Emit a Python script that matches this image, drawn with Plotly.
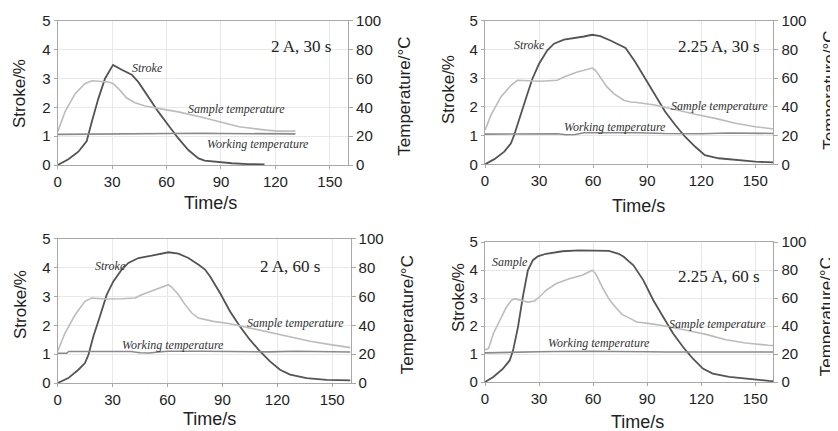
import plotly.graph_objects as go

# The page body has an 8 px margin, so the figure is drawn 8 px smaller
# and all pixel positions are shifted by that offset.
PAGE_W, PAGE_H = 838, 431
OFF = 8
W, H = PAGE_W - OFF, PAGE_H - OFF

# ---------------- data ----------------
panel_titles = ["2 A, 30 s", "2.25 A, 30 s", "2 A, 60 s", "2.25 A, 60 s"]
stroke_labels = ["Stroke", "Stroke", "Stroke", "Sample"]

x_ticks = [0, 30, 60, 90, 120, 150]

# Panel 1: 2 A, 30 s
p1_stroke_t = [0, 5.9, 11.4, 16, 18.8, 22.4, 26.1, 30.5, 35.3, 40.8, 44.5, 50, 55.5, 61, 66.5, 72, 77.6, 81, 89, 96, 105, 114]
p1_stroke_v = [0, 0.2, 0.46, 0.83, 1.5, 2.3, 3.0, 3.47, 3.3, 3.13, 2.87, 2.36, 1.84, 1.38, 0.92, 0.52, 0.23, 0.15, 0.1, 0.06, 0.03, 0.02]
p1_sample_t = [0, 4, 9.6, 15, 18.8, 22.4, 28, 30.7, 34.4, 38, 42.6, 48.2, 53.7, 59.2, 66.5, 73.9, 81.2, 89.2, 100, 114.8, 122, 131]
p1_sample_v = [23, 36.8, 49.4, 56.3, 58.4, 58, 57.5, 56.3, 51.7, 46.4, 43.2, 40.9, 39.5, 38.4, 36.8, 34.9, 32.6, 30, 26.5, 24.2, 23.5, 23.5]
p1_work_t = [0, 10, 20, 30, 40, 50, 60, 70, 80, 90, 100, 110, 120, 131]
p1_work_v = [21.2, 21.3, 21.4, 21.6, 22.0, 22.1, 22.0, 22.2, 22.0, 21.8, 21.7, 21.6, 21.6, 21.6]

# Panel 2: 2.25 A, 30 s
p2_stroke_t = [0, 5.2, 10.7, 14.4, 16.2, 19, 22.7, 26.3, 30, 34.6, 38.3, 43.8, 49.4, 54.9, 59.5, 64, 69.6, 75, 78, 83.3, 88.9, 94.4, 100, 105.6, 111, 116.7, 122, 129.6, 138.9, 150, 160]
p2_stroke_v = [0, 0.18, 0.44, 0.73, 1.02, 1.6, 2.29, 2.98, 3.5, 3.97, 4.2, 4.34, 4.39, 4.45, 4.51, 4.46, 4.31, 4.15, 4.05, 3.57, 3.0, 2.41, 1.83, 1.37, 0.96, 0.61, 0.32, 0.21, 0.15, 0.09, 0.07]
p2_sample_t = [0, 3.3, 8.8, 14.4, 18, 23.6, 30.9, 40.1, 43.8, 51.2, 59.5, 61.3, 64, 67.7, 71.5, 77, 80.7, 83.3, 94.4, 105.6, 116.7, 127.8, 138.9, 150, 160]
p2_sample_v = [23.8, 34.2, 46.9, 55, 58.5, 58, 57.8, 58.5, 60.8, 64.3, 67, 65.4, 60.8, 53.9, 49.2, 44.6, 43.4, 43.2, 41.3, 37.8, 34.8, 32, 28.6, 26.2, 24.6]
p2_work_t = [0, 20, 40, 45, 50, 55, 70, 85, 100, 120, 135, 150, 160]
p2_work_v = [21.0, 21.2, 21.3, 20.6, 20.8, 22.0, 22.1, 22.0, 21.4, 21.3, 21.8, 21.8, 21.5]

# Panel 3: 2 A, 60 s
p3_stroke_t = [0, 5.8, 11.3, 14.9, 16.8, 19.5, 23.1, 26.8, 30.4, 35, 38.6, 44.1, 51.4, 56.8, 60.5, 66, 71.4, 77, 80.5, 83.2, 88.7, 94.2, 99.6, 105, 110.5, 116, 121.5, 127, 136, 147, 160]
p3_stroke_v = [0, 0.17, 0.46, 0.69, 0.98, 1.62, 2.31, 3.06, 3.52, 3.93, 4.16, 4.33, 4.41, 4.47, 4.53, 4.48, 4.33, 4.1, 3.93, 3.7, 3.12, 2.48, 1.96, 1.5, 1.1, 0.75, 0.46, 0.29, 0.17, 0.11, 0.09]
p3_sample_t = [0, 4, 9.5, 14.9, 18.6, 25.9, 35, 42.3, 45.9, 53.2, 60.5, 62.3, 66, 69.6, 73.3, 76.9, 80.5, 85, 94.2, 105, 116, 127, 138, 149, 160]
p3_sample_v = [22, 34.6, 47.3, 56.6, 58.9, 58.2, 58.4, 58.9, 61.2, 64.7, 68.1, 66.5, 61.2, 54.3, 48.5, 45, 44, 42.7, 41.1, 38.1, 35.1, 31.9, 28.9, 26.6, 24.5]
p3_work_t = [0, 5, 6, 40, 45, 50, 55, 60, 80, 100, 115, 130, 140, 160]
p3_work_v = [20.6, 20.6, 21.8, 21.8, 21.0, 20.8, 21.5, 22.0, 22.0, 21.8, 21.6, 22.0, 21.8, 21.5]

# Panel 4: 2.25 A, 60 s
p4_stroke_t = [0, 4.6, 10, 13.7, 15.6, 18.3, 21, 23.8, 26.6, 29.3, 33.9, 43, 52.2, 61.4, 68.7, 74.2, 77, 80, 82.4, 87.9, 93.4, 98.9, 104.4, 109.9, 115.4, 120.9, 126.4, 135.5, 146.5, 157.5, 160]
p4_stroke_v = [0, 0.18, 0.48, 0.77, 1.13, 1.96, 3.04, 3.99, 4.35, 4.49, 4.58, 4.67, 4.7, 4.7, 4.68, 4.58, 4.47, 4.3, 4.17, 3.63, 2.92, 2.32, 1.73, 1.25, 0.83, 0.48, 0.3, 0.18, 0.1, 0.04, 0.03]
p4_sample_t = [0, 2, 4.6, 8.2, 11.9, 14.7, 16.5, 20.1, 23.8, 27.5, 30.2, 33.9, 39.3, 46.7, 54, 59.5, 61.4, 65, 68.7, 72.3, 76, 79.7, 84.2, 91.6, 100.7, 111.7, 122.7, 133.7, 144.7, 157.5, 160]
p4_sample_v = [23, 24, 34.5, 44, 53.6, 58.3, 59.5, 58.3, 57.1, 57.9, 60.7, 65.5, 70.2, 73.8, 76.2, 79.8, 77.4, 67.9, 59.5, 53.6, 48.3, 46, 42.9, 41.7, 39.8, 36.9, 34, 30.2, 27.9, 26.2, 26]
p4_work_t = [0, 10, 20, 30, 40, 50, 60, 70, 80, 90, 100, 120, 140, 160]
p4_work_v = [20.8, 20.9, 21.2, 21.6, 21.8, 22.0, 22.0, 21.8, 21.9, 21.6, 21.4, 21.3, 21.5, 21.4]

stroke_t = [p1_stroke_t, p2_stroke_t, p3_stroke_t, p4_stroke_t]
stroke_v = [p1_stroke_v, p2_stroke_v, p3_stroke_v, p4_stroke_v]
sample_t = [p1_sample_t, p2_sample_t, p3_sample_t, p4_sample_t]
sample_v = [p1_sample_v, p2_sample_v, p3_sample_v, p4_sample_v]
work_t = [p1_work_t, p2_work_t, p3_work_t, p4_work_t]
work_v = [p1_work_v, p2_work_v, p3_work_v, p4_work_v]

# label positions (data coords: time, stroke units)
stroke_lbl_pos = [(49.6, 3.36), (24.8, 4.15), (28.6, 4.05), (13.6, 4.27)]
title_pos = [(134, 4.1), (130, 4.1), (127, 4.03), (130, 3.76)]
sample_lbl_pos = [(98.7, 1.93), (130, 2.03), (129.7, 2.07), (129.3, 2.07)]
work_lbl_pos = [(110.6, 0.73), (72.4, 1.31), (63.2, 1.32), (63.4, 1.38)]

# ---------------- layout geometry (page pixels) ----------------
# (left, right, top, bottom) of each plot area
boxes = [(57.7, 348, 20.7, 165), (485, 773.3, 20.7, 164.3),
         (57.7, 350.5, 238.7, 383), (485, 773.3, 242, 382)]
stroke_title_px = [(20, 94), (448, 90), (20, 305), (458, 298)]
temp_title_px = [(405, 96.7), (828.7, 90), (407.3, 315), (826.3, 317)]
time_title_px = [(210, 203), (638, 206), (209, 419), (637, 422)]

def fx(px):
    return (px - OFF) / W

def fy(py):
    return 1 - (py - OFF) / H

C_STROKE = "#545454"
C_SAMPLE = "#bcbcbc"
C_WORK = "#8a8a8a"
FRAME = "#a8a8a8"
GRID = "#e8e8e8"
TXT = "#222222"
SANS = "Liberation Sans, Arial, sans-serif"
SERIF = "Liberation Serif, Times New Roman, serif"

fig = go.Figure()
layout = dict(template="none", width=W, height=H, margin=dict(l=0, r=0, t=0, b=0, pad=0),
              paper_bgcolor="white", plot_bgcolor="white", showlegend=False)
annotations = []

for i in range(4):
    n = i + 1
    xa = "x" if n == 1 else f"x{n}"
    yl_idx = 2 * i + 1
    yr_idx = 2 * i + 2
    yl = "y" if yl_idx == 1 else f"y{yl_idx}"
    yr = f"y{yr_idx}"
    L, R, T, B = boxes[i]

    fig.add_trace(go.Scatter(x=sample_t[i], y=sample_v[i], xaxis=xa, yaxis=yr, mode="lines",
                             line=dict(color=C_SAMPLE, width=1.6)))
    fig.add_trace(go.Scatter(x=work_t[i], y=work_v[i], xaxis=xa, yaxis=yr, mode="lines",
                             line=dict(color=C_WORK, width=1.6)))
    fig.add_trace(go.Scatter(x=stroke_t[i], y=stroke_v[i], xaxis=xa, yaxis=yl, mode="lines",
                             line=dict(color=C_STROKE, width=1.8)))

    xkey = "xaxis" if n == 1 else f"xaxis{n}"
    ylkey = "yaxis" if yl_idx == 1 else f"yaxis{yl_idx}"
    yrkey = f"yaxis{yr_idx}"
    layout[xkey] = dict(domain=[fx(L), fx(R)], range=[0, 160], anchor=yl, automargin=False,
                        tickvals=x_ticks, showgrid=True, gridcolor=GRID, gridwidth=1,
                        showline=True, linecolor=FRAME, linewidth=1.2, mirror=True,
                        ticks="outside", ticklen=3, tickcolor=FRAME,
                        tickfont=dict(family=SANS, size=15, color=TXT), zeroline=False)
    layout[ylkey] = dict(domain=[fy(B), fy(T)], range=[0, 5], anchor=xa, automargin=False,
                         tickvals=[0, 1, 2, 3, 4, 5], showgrid=True, gridcolor=GRID, gridwidth=1,
                         showline=True, linecolor=FRAME, linewidth=1.2,
                         ticks="outside", ticklen=3, tickcolor=FRAME,
                         tickfont=dict(family=SANS, size=15, color=TXT), zeroline=False)
    layout[yrkey] = dict(range=[0, 100], overlaying=yl, side="right", anchor=xa, automargin=False,
                         tickvals=[0, 20, 40, 60, 80, 100], showgrid=False,
                         showline=True, linecolor=FRAME, linewidth=1.2,
                         ticks="outside", ticklen=4, tickcolor=FRAME,
                         tickfont=dict(family=SANS, size=15, color=TXT), zeroline=False)

    # curve labels
    for (tx, ty), txt in [(stroke_lbl_pos[i], stroke_labels[i]),
                          (sample_lbl_pos[i], "Sample temperature"),
                          (work_lbl_pos[i], "Working temperature")]:
        annotations.append(dict(x=tx, y=ty, xref=xa, yref=yl, text=f"<i>{txt}</i>",
                                showarrow=False, font=dict(family=SERIF, size=12, color="#333333"),
                                xanchor="center", yanchor="middle"))
    annotations.append(dict(x=title_pos[i][0], y=title_pos[i][1], xref=xa, yref=yl,
                            text=panel_titles[i], showarrow=False,
                            font=dict(family=SERIF, size=17, color=TXT),
                            xanchor="center", yanchor="middle"))
    # axis titles
    sx, sy = stroke_title_px[i]
    annotations.append(dict(x=fx(sx), y=fy(sy), xref="paper", yref="paper", text="Stroke/%",
                            textangle=-90, showarrow=False, font=dict(family=SANS, size=17, color=TXT),
                            xanchor="center", yanchor="middle"))
    tx_, ty_ = temp_title_px[i]
    annotations.append(dict(x=fx(tx_), y=fy(ty_), xref="paper", yref="paper", text="Temperature/°C",
                            textangle=-90, showarrow=False, font=dict(family=SANS, size=17, color=TXT),
                            xanchor="center", yanchor="middle"))
    mx, my = time_title_px[i]
    annotations.append(dict(x=fx(mx), y=fy(my), xref="paper", yref="paper", text="Time/s",
                            showarrow=False, font=dict(family=SANS, size=18, color=TXT),
                            xanchor="center", yanchor="middle"))

layout["annotations"] = annotations
fig.update_layout(**layout)
fig.write_html("out.html")
